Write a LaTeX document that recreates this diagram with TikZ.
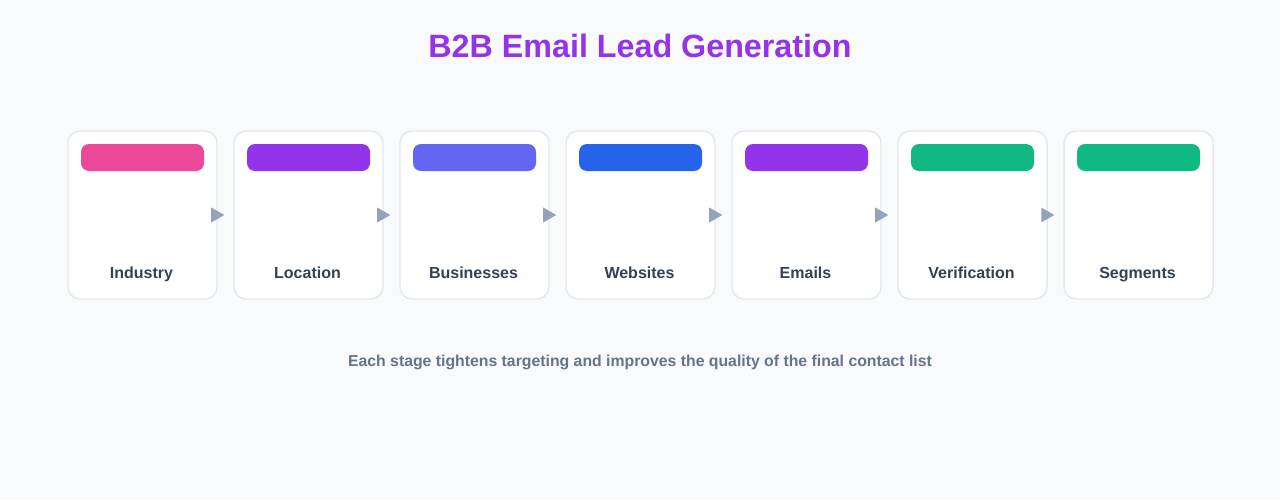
\documentclass[tikz,border=0pt]{standalone}
\usepackage{fontspec}
\setmainfont{Liberation Sans}
\usetikzlibrary{calc}
\definecolor{bg}{HTML}{F8FAFC}
\definecolor{cardborder}{HTML}{E2E8F0}
\definecolor{arrowc}{HTML}{94A3B8}
\definecolor{labelc}{HTML}{334155}
\definecolor{subc}{HTML}{64748B}
\definecolor{titlec}{HTML}{9333EA}
\definecolor{cA}{HTML}{EC4899}
\definecolor{cB}{HTML}{9333EA}
\definecolor{cC}{HTML}{6366F1}
\definecolor{cD}{HTML}{2563EB}
\definecolor{cE}{HTML}{10B981}
\begin{document}
\begin{tikzpicture}[x=0.75pt,y=-0.75pt,
  card/.style={draw=cardborder,line width=1.1pt,fill=white,rounded corners=9pt,minimum width=111.75pt,minimum height=126pt,inner sep=0pt},
  bar/.style={rounded corners=6pt,minimum width=92.25pt,minimum height=20.25pt,inner sep=0pt},
  lbl/.style={font=\bfseries\fontsize{12}{14}\selectfont,text=labelc,anchor=base,inner sep=0pt},
  tri/.style={fill=arrowc}]
\fill[bg] (0,0) rectangle (1280,500);
\useasboundingbox (0,0) rectangle (1280,500);
\node[font=\bfseries\fontsize{24.2}{28}\selectfont,text=titlec,anchor=base,inner sep=0pt] (title) at (640,57) {B2B Email Lead Generation};
\foreach \i/\c/\t in {0/cA/Industry,1/cB/Location,2/cC/Businesses,3/cD/Websites,4/cB/Emails,5/cE/Verification,6/cE/Segments}{
  \node[card] (card\i) at ({142.5+166*\i},215) {};
  \node[bar,fill=\c] (bar\i) at ({142.5+166*\i},157.5) {};
  \node[lbl] (lbl\i) at ({141.5+166*\i},278) {\t};
}
\foreach \i in {0,...,5}{
  \fill[tri] ($(card\i.east)+(-6.5,-7.5)$) -- ($(card\i.east)+(6.5,0)$) -- ($(card\i.east)+(-6.5,7.5)$) -- cycle;
}
\node[font=\bfseries\fontsize{11.85}{14}\selectfont,text=subc,anchor=base,inner sep=0pt] (sub) at (640,366) {Each stage tightens targeting and improves the quality of the final contact list};
\end{tikzpicture}
\end{document}
